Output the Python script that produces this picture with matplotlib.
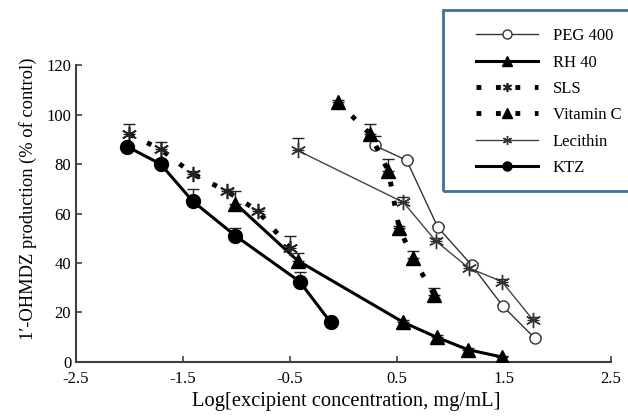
import matplotlib
matplotlib.use("Agg")
import matplotlib.pyplot as plt
from matplotlib.patches import Rectangle

plt.rcParams['font.family'] = ['Liberation Serif', 'DejaVu Serif']

# data (log conc, % of control, upper error)
peg_x = [0.29, 0.59, 0.88, 1.20, 1.49, 1.79]
peg_y = [87.5, 81.5, 54.5, 39, 22.5, 9.5]
peg_e = [4, 1, 1, 1, 1, 1]

rh_x = [-1.01, -0.43, 0.56, 0.87, 1.16, 1.48]
rh_y = [64, 41, 16, 10, 5, 2]
rh_e = [5, 3, 1, 1, 0.5, 0.5]

sls_x = [-2.0, -1.71, -1.41, -1.09, -0.80, -0.50]
sls_y = [92, 86, 76, 69, 61, 46]
sls_e = [4, 3, 1, 1, 1, 5]

vitc_x = [-0.05, 0.25, 0.42, 0.52, 0.65, 0.85]
vitc_y = [105, 92, 77, 54, 42, 27]
vitc_e = [1, 4, 5, 1, 3, 3]

lec_x = [-0.43, 0.56, 0.86, 1.17, 1.48, 1.77]
lec_y = [85.5, 64.5, 49, 38, 32.5, 17]
lec_e = [5, 2, 1, 1, 1, 1]

ktz_x = [-2.02, -1.71, -1.41, -1.01, -0.41, -0.12]
ktz_y = [87, 80, 65, 51, 32.5, 16]
ktz_e = [1, 1, 5, 3, 4, 1]

fig = plt.figure(figsize=(6.28, 4.17), dpi=100)
ax = fig.add_axes([0.121, 0.132, 0.852, 0.712])

star = (6, 2, 0)
series = [
    ("PEG 400", peg_x, peg_y, peg_e, dict(color='#333333', lw=1.0, ls='-', marker='o', ms=8, mfc='white', mec='#333333', mew=1.0)),
    ("RH 40", rh_x, rh_y, rh_e, dict(color='black', lw=2.2, ls='-', marker='^', ms=10, mfc='black', mec='black')),
    ("SLS", sls_x, sls_y, sls_e, dict(color='black', lw=3.5, ls=(0, (1, 3)), marker=star, ms=11, mec='#222222', mew=1.2)),
    ("Vitamin C", vitc_x, vitc_y, vitc_e, dict(color='black', lw=3.5, ls=(0, (1, 3)), marker='^', ms=10, mfc='black', mec='black')),
    ("Lecithin", lec_x, lec_y, lec_e, dict(color='#444444', lw=1.0, ls='-', marker=star, ms=11, mec='#333333', mew=1.0)),
    ("KTZ", ktz_x, ktz_y, ktz_e, dict(color='black', lw=2.2, ls='-', marker='o', ms=10, mfc='black', mec='black')),
]

handles = []
for name, x, y, e, st in series:
    ax.errorbar(x, y, yerr=[[0] * len(e), e], fmt='none', ecolor='#222222',
                elinewidth=1.0, capsize=4, capthick=1.0, zorder=2)
    h, = ax.plot(x, y, label=name, zorder=3, **st)
    handles.append(h)

ax.set_xlim(-2.5, 2.5)
ax.set_ylim(0, 120)
ax.set_xticks([-2.5, -1.5, -0.5, 0.5, 1.5, 2.5])
ax.set_xticklabels(['-2.5', '-1.5', '-0.5', '0.5', '1.5', '2.5'])
ax.set_yticks(range(0, 121, 20))
for s in ['top', 'right']:
    ax.spines[s].set_visible(False)
for s in ['left', 'bottom']:
    ax.spines[s].set_color('#404040')
    ax.spines[s].set_linewidth(1.5)
ax.tick_params(direction='in', length=4, width=1.2, color='#404040', labelsize=12)
ax.tick_params(axis='x', pad=6.5)

ax.set_xlabel("Log[excipient concentration, mg/mL]", fontsize=14.8)
ax.xaxis.set_label_coords(0.505, -0.10)
ax.set_ylabel("1\u2032-OHMDZ production (% of control)", fontsize=13.3)
ax.yaxis.set_label_coords(-0.072, 0.55)

# legend box runs past the right edge like the original
fig.patches.append(Rectangle((443 / 628, 1 - 191 / 417), 0.4, 181 / 417,
                             transform=fig.transFigure, fill=False,
                             edgecolor='#41719C', lw=2, clip_on=False))
leg = fig.legend(handles=handles, loc='upper left',
                 bbox_to_anchor=(468 / 628, 1 - 20 / 417), frameon=False,
                 fontsize=12, handlelength=3.7, labelspacing=0.62,
                 handletextpad=0.9, borderpad=0)
for lh in leg.legend_handles:
    lh.set_markersize(6.5)

fig.savefig("out.png", dpi=100)
